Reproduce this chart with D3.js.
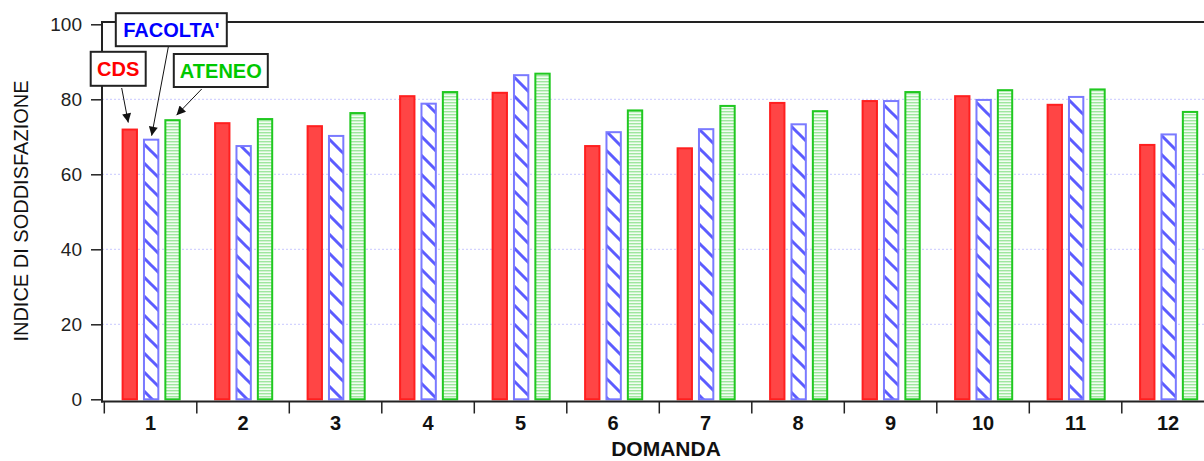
<!DOCTYPE html>
<html>
<head>
<meta charset="utf-8">
<script src="https://cdn.jsdelivr.net/npm/d3@7"></script>
<style>
  html, body { margin: 0; padding: 0; background: #fff; }
  svg { display: block; font-family: "Liberation Sans", Arial, sans-serif; }
</style>
</head>
<body>
<svg id="chart" width="1204" height="461"></svg>
<script>
// ---- DATA ----
const categories = ["1","2","3","4","5","6","7","8","9","10","11","12"];
const seriesNames = ["CDS", "FACOLTA'", "ATENEO"];
const cds      = [72.2, 73.9, 73.1, 81.1, 82.0, 67.8, 67.2, 79.3, 79.8, 81.1, 78.8, 68.1];
const facolta  = [69.5, 67.8, 70.5, 79.1, 86.7, 71.5, 72.3, 73.6, 79.8, 80.1, 80.9, 70.9];
const ateneo   = [74.7, 75.0, 76.6, 82.2, 87.1, 77.3, 78.5, 77.1, 82.2, 82.7, 82.9, 76.9];
const yTicks   = [0, 20, 40, 60, 80, 100];
const yGrid    = [20, 40, 60, 80];
const yTitle   = "INDICE DI SODDISFAZIONE";
const xTitle   = "DOMANDA";

const seriesValues = [cds, facolta, ateneo];

// ---- LAYOUT ----
const svg = d3.select("#chart");
const plotLeft = 102, plotTop = 22, xAxisY = 401.5;
const catStep = 92.5, catStart = 104.3;

const x0 = d3.scaleBand().domain(categories)
  .range([catStart, catStart + catStep * categories.length]).padding(0);
const x1 = d3.scaleBand().domain(seriesNames).range([17.3, 76.4]).paddingInner(0.235).paddingOuter(0);
const y = d3.scaleLinear().domain([0, 100]).range([399.3, 24.3]);

// ---- DEFS (patterns, markers) ----
const defs = svg.append("defs");
const hatch = defs.append("pattern").attr("id", "hatchBlue")
  .attr("patternUnits", "userSpaceOnUse").attr("width", 19).attr("height", 19);
hatch.append("rect").attr("width", 19).attr("height", 19).attr("fill", "#fff");
hatch.append("path").attr("d", "M0,0 L19,19 M-4,15 L4,23 M15,-4 L23,4")
  .attr("stroke", "#5c5cff").attr("stroke-width", 3);

const hz = defs.append("pattern").attr("id", "hzGreen")
  .attr("patternUnits", "userSpaceOnUse").attr("width", 10).attr("height", 3);
hz.append("rect").attr("width", 10).attr("height", 3).attr("fill", "#f2fdf2");
hz.append("rect").attr("y", 0).attr("width", 10).attr("height", 1.4).attr("fill", "#9fe69f");

defs.append("marker").attr("id", "arrow")
  .attr("viewBox", "0 0 10 10").attr("refX", 10).attr("refY", 5)
  .attr("markerUnits", "userSpaceOnUse")
  .attr("markerWidth", 12).attr("markerHeight", 9).attr("orient", "auto")
  .append("path").attr("d", "M0,0 L10,5 L0,10 Z").attr("fill", "#111");

// ---- GRID ----
svg.append("g").selectAll("line").data(yGrid).join("line")
  .attr("x1", plotLeft).attr("x2", 1204)
  .attr("y1", d => y(d)).attr("y2", d => y(d))
  .attr("stroke", "#c9c9ff").attr("stroke-width", 1).attr("stroke-dasharray", "2,2");

// ---- BARS ----
const styles = [
  { fill: "#ff4545", stroke: "#ff1f1f" },
  { fill: "url(#hatchBlue)", stroke: "#7a7aff" },
  { fill: "url(#hzGreen)", stroke: "#20c820" }
];
const barData = [];
categories.forEach((c, i) => {
  seriesNames.forEach((s, j) => {
    barData.push({ cat: c, series: s, j: j, value: seriesValues[j][i] });
  });
});
const sw = 2;
svg.append("g").selectAll("rect").data(barData).join("rect")
  .attr("x", d => x0(d.cat) + x1(d.series) + sw / 2)
  .attr("width", x1.bandwidth() - sw)
  .attr("y", d => y(d.value) + sw / 2)
  .attr("height", d => y(0) - y(d.value) - sw / 2)
  .attr("fill", d => styles[d.j].fill)
  .attr("stroke", d => styles[d.j].stroke)
  .attr("stroke-width", sw);

// ---- AXES ----
// top frame line
svg.append("line").attr("x1", plotLeft).attr("x2", 1204)
  .attr("y1", plotTop).attr("y2", plotTop)
  .attr("stroke", "#222").attr("stroke-width", 2);

// left axis
const yAxis = d3.axisLeft(y).tickValues(yTicks).tickSize(11).tickPadding(9).tickSizeOuter(0);
const gy = svg.append("g").attr("transform", `translate(${plotLeft},0)`).call(yAxis);
gy.select(".domain").remove();
gy.selectAll(".tick line").attr("stroke", "#222").attr("stroke-width", 1.5);
gy.selectAll(".tick text").attr("font-size", 19).attr("fill", "#222")
  .attr("font-family", "Liberation Sans, Arial, sans-serif");
svg.append("line").attr("x1", plotLeft).attr("x2", plotLeft)
  .attr("y1", plotTop - 1).attr("y2", xAxisY + 1)
  .attr("stroke", "#222").attr("stroke-width", 2);

// bottom axis
const xAxis = d3.axisBottom(x0).tickSize(0).tickPadding(14).tickSizeOuter(0);
const gx = svg.append("g").attr("transform", `translate(0,${xAxisY})`).call(xAxis);
gx.select(".domain").remove();
gx.selectAll(".tick text").attr("font-size", 20).attr("font-weight", "bold").attr("fill", "#111")
  .attr("font-family", "Liberation Sans, Arial, sans-serif");
svg.append("line").attr("x1", plotLeft - 1).attr("x2", 1204)
  .attr("y1", xAxisY).attr("y2", xAxisY)
  .attr("stroke", "#222").attr("stroke-width", 2);
// boundary ticks
svg.append("g").selectAll("line").data(categories).join("line")
  .attr("x1", d => x0(d)).attr("x2", d => x0(d))
  .attr("y1", xAxisY).attr("y2", xAxisY + 12)
  .attr("stroke", "#222").attr("stroke-width", 1.5);

// axis titles
svg.append("text").attr("transform", "translate(28,211) rotate(-90)")
  .attr("text-anchor", "middle").attr("font-size", 20).attr("fill", "#111")
  .text(yTitle);
svg.append("text").attr("x", 666).attr("y", 455.5)
  .attr("text-anchor", "middle").attr("font-size", 21).attr("font-weight", "bold").attr("fill", "#111")
  .text(xTitle);

// ---- ANNOTATIONS ----
const annColors = ["#ff0000", "#0000ff", "#00c800"];
const boxes = [
  { cx: 118.2, cy: 68.8, w: 55, h: 34, sx: 121.7, sy: 88, dx: -1.5, dy: -6 },
  { cx: 171.3, cy: 29.7, w: 111, h: 33, sx: 168.3, sy: 47, dx: 0.5, dy: -3 },
  { cx: 220.8, cy: 70.5, w: 94, h: 33, sx: 201.7, sy: 89, dx: 4, dy: -4 }
];
const ann = svg.append("g");
seriesNames.forEach((s, j) => {
  const b = boxes[j];
  const tipX = x0(categories[0]) + x1(s) + x1.bandwidth() / 2 + b.dx;
  const tipY = y(seriesValues[j][0]) + b.dy;
  ann.append("line").attr("x1", b.sx).attr("y1", b.sy).attr("x2", tipX).attr("y2", tipY)
    .attr("stroke", "#111").attr("stroke-width", 1).attr("marker-end", "url(#arrow)");
  ann.append("rect").attr("x", b.cx - b.w / 2).attr("y", b.cy - b.h / 2)
    .attr("width", b.w).attr("height", b.h)
    .attr("fill", "#fff").attr("stroke", "#222").attr("stroke-width", 2);
  ann.append("text").attr("x", b.cx).attr("y", b.cy + 7)
    .attr("text-anchor", "middle").attr("font-size", 20).attr("font-weight", "bold")
    .attr("fill", annColors[j]).text(s);
});
</script>
</body>
</html>
